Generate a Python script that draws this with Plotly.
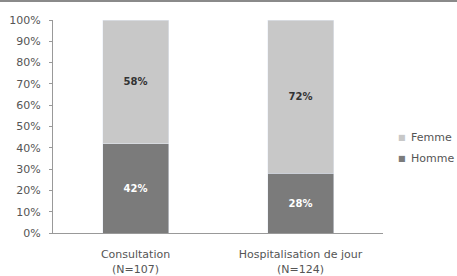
import plotly.graph_objects as go

categories = ["Consultation<br>(N=107)", "Hospitalisation de jour<br>(N=124)"]
homme = [42, 28]
femme = [58, 72]
homme_labels = ["<b>42%</b>", "<b>28%</b>"]
femme_labels = ["<b>58%</b>", "<b>72%</b>"]
y_ticks = [0, 10, 20, 30, 40, 50, 60, 70, 80, 90, 100]
y_ticktext = [f"{v}%" for v in y_ticks]
legend_names = ["Femme", "Homme"]
legend_colors = ["#c8c8c8", "#7b7b7b"]

FONT = "DejaVu Sans"
W, H = 457, 276
L, R, T, B = 53, 74, 20, 43
pw, ph = W - L - R, H - T - B

def px_x(x):
    return (x - L) / pw

def px_y(y):
    return (H - B - y) / ph

fig = go.Figure()
fig.add_trace(go.Bar(x=categories, y=homme, name="Homme", marker_color="#7b7b7b",
                     text=homme_labels, textposition="inside", insidetextanchor="middle",
                     textfont=dict(color="white", size=10, family=FONT),
                     showlegend=False))
fig.add_trace(go.Bar(x=categories, y=femme, name="Femme", marker_color="#c8c8c8",
                     text=femme_labels, textposition="inside", insidetextanchor="middle",
                     textfont=dict(color="#333333", size=10, family=FONT),
                     showlegend=False))

annotations = []
for i, (nm, col) in enumerate(zip(legend_names, legend_colors)):
    yy = px_y(137 + i * 21)
    annotations.append(dict(xref="paper", yref="paper", x=px_x(402), y=yy, text="■",
                            showarrow=False, xanchor="center", yanchor="middle",
                            font=dict(size=8, color=col, family=FONT)))
    annotations.append(dict(xref="paper", yref="paper", x=px_x(409), y=yy, text=nm,
                            showarrow=False, xanchor="left", yanchor="middle",
                            font=dict(size=11, color="#555555", family=FONT)))

fig.update_layout(
    barmode="stack", bargap=0.6,
    width=W, height=H,
    margin=dict(l=L, r=R, t=T, b=B, autoexpand=False),
    paper_bgcolor="white", plot_bgcolor="white",
    font=dict(family=FONT, size=11, color="#444444"),
    showlegend=False,
    uniformtext=dict(mode="show", minsize=9),
    annotations=annotations,
    shapes=[dict(type="rect", xref="paper", yref="paper", x0=px_x(-5), x1=px_x(W + 5),
                 y0=px_y(0), y1=px_y(2), fillcolor="#8a8a8a", line=dict(width=0),
                 layer="above")],
)
fig.update_yaxes(range=[0, 100], tickvals=y_ticks, ticktext=y_ticktext, automargin=False,
                 showline=True, linecolor="#999999", linewidth=1,
                 ticks="outside", ticklen=3, tickcolor="#999999", ticklabelstandoff=6,
                 showgrid=False, zeroline=False,
                 tickfont=dict(size=11, color="#555555", family=FONT))
fig.update_xaxes(showline=True, linecolor="#999999", linewidth=1, ticks="", automargin=False,
                 ticklabelstandoff=11,
                 tickfont=dict(size=11, color="#555555", family=FONT))

fig.write_html("out.html", config={"displayModeBar": False},
               post_script="document.body.style.margin='0';document.body.style.padding='0';")
